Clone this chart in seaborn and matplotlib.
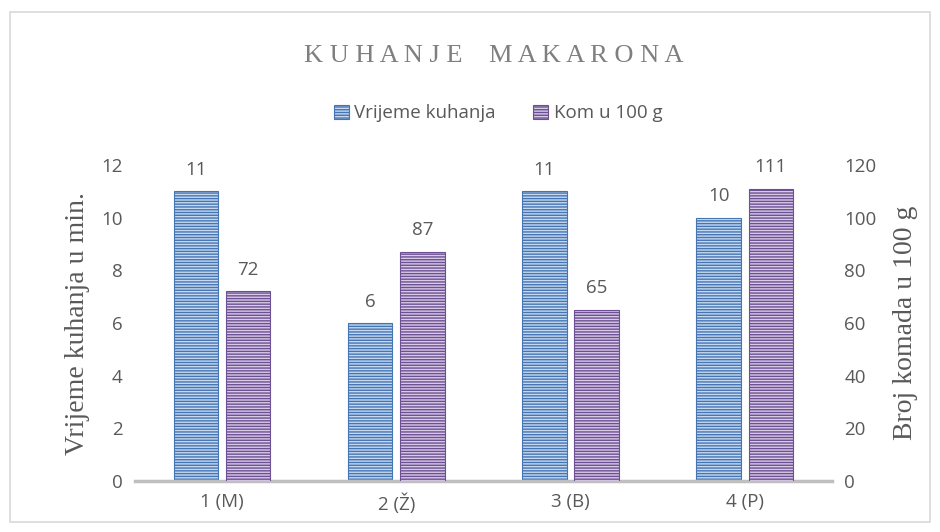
import pandas as pd
import numpy as np
import seaborn as sns
import matplotlib.pyplot as plt
from matplotlib.patches import Rectangle

categories = ["1 (M)", "2 (Ž)", "3 (B)", "4 (P)"]
vrijeme = [11, 6, 11, 10]
kom = [72, 87, 65, 111]
series = ["Vrijeme kuhanja", "Kom u 100 g"]

df = pd.DataFrame({
    "kat": categories * 2,
    "serija": [series[0]] * 4 + [series[1]] * 4,
    "lijevo": vrijeme + [np.nan] * 4,
    "desno": [np.nan] * 4 + kom,
})

sns.set_style("white")
plt.rcParams["font.family"] = ["Open Sans", "DejaVu Sans"]

face = {series[0]: "#c6d9f1", series[1]: "#d8cbe6"}
edge = {series[0]: "#4675b3", series[1]: "#6d4f93"}
pal = {series[0]: "#5b8fd0", series[1]: "#8064a2"}

fig = plt.figure(figsize=(9.4, 5.32), dpi=100)
ax = fig.add_axes([0.1436, 0.0959, 0.7414, 0.5939])
ax2 = ax.twinx()

sns.barplot(data=df, x="kat", y="lijevo", hue="serija", hue_order=series,
            palette=pal, width=0.6, gap=0.15, ax=ax, legend=False)
sns.barplot(data=df, x="kat", y="desno", hue="serija", hue_order=series,
            palette=pal, width=0.6, gap=0.15, ax=ax2, legend=False)

grey = "#595959"
for a, s in [(ax, series[0]), (ax2, series[1])]:
    for p in a.patches:
        if np.isnan(p.get_height()) or p.get_height() == 0:
            continue
        p.set_facecolor(face[s])
        p.set_edgecolor(edge[s])
        p.set_hatch("------")
        p.set_linewidth(0.8)
    for c in a.containers:
        a.bar_label(c, padding=9, fontsize=13.5, color=grey)

ax.set_ylim(0, 12)
ax2.set_ylim(0, 120)
ax.set_yticks(range(0, 13, 2))
ax2.set_yticks(range(0, 121, 20))
ax.set_xlim(-0.5, 3.5)

for a in (ax, ax2):
    for sp in a.spines.values():
        sp.set_visible(False)
    a.tick_params(axis="both", length=0, labelsize=13.5, labelcolor=grey, pad=9)
ax.spines["bottom"].set_visible(True)
ax.spines["bottom"].set_color("#bfbfbf")
ax.spines["bottom"].set_linewidth(2.5)

ax.set_xlabel("")
ax.set_ylabel("Vrijeme kuhanja u min.", family="Liberation Serif", fontsize=20, color=grey, labelpad=8)
ax2.set_ylabel("Broj komada u 100 g", family="Liberation Serif", fontsize=20, color=grey, labelpad=12)
ax2.yaxis.set_label_position("right")

fig.text(0.525, 0.895, "K U H A N J E    M A K A R O N A", ha="center", va="center",
         family="Liberation Serif", fontsize=19, color="#7f7f7f")

handles = [Rectangle((0, 0), 1, 1, facecolor=face[s], edgecolor=edge[s], hatch="------", linewidth=0.8)
           for s in series]
fig.legend(handles, series, loc="center", bbox_to_anchor=(0.53, 0.787), ncol=2, frameon=False,
           fontsize=13.5, labelcolor=grey, handlelength=0.8, handleheight=0.8, handletextpad=0.3,
           columnspacing=2.0)

fig.patches.append(Rectangle((0.011, 0.019), 0.978, 0.958, transform=fig.transFigure,
                             fill=False, edgecolor="#d9d9d9", linewidth=1.2))

plt.savefig("out.png", dpi=100)
